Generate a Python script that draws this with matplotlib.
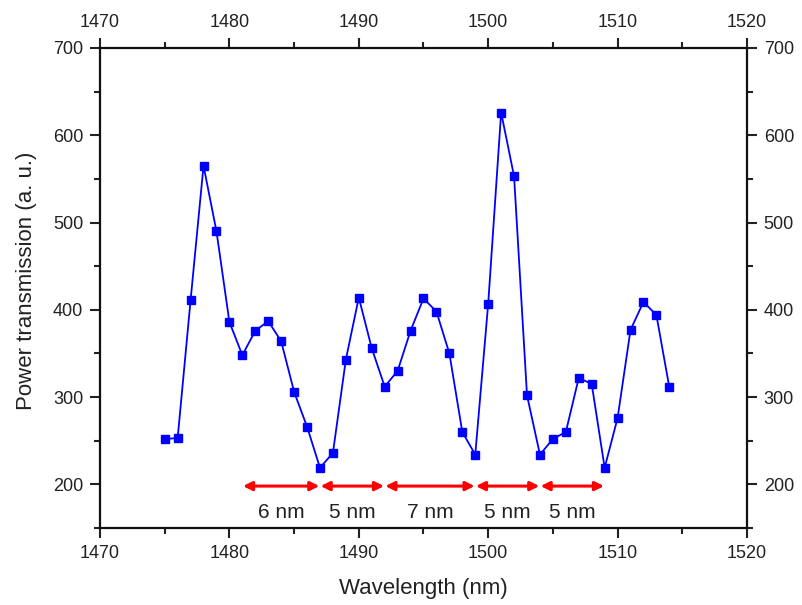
import matplotlib
matplotlib.use("Agg")
import matplotlib.pyplot as plt
from matplotlib.ticker import MultipleLocator

plt.rcParams['font.family'] = ['Liberation Sans', 'DejaVu Sans']

wavelength = list(range(1475, 1515))
power = [252, 253, 411, 565, 490, 386, 348, 376, 387, 364,
         306, 266, 219, 236, 343, 414, 356, 312, 330, 376,
         413, 398, 350, 260, 234, 407, 626, 553, 302, 234,
         252, 260, 322, 315, 219, 276, 377, 409, 394, 311]

spans = [(1481, 1487), (1487, 1492), (1492, 1499), (1499, 1504), (1504, 1509)]
span_labels = ["6 nm", "5 nm", "7 nm", "5 nm", "5 nm"]
arrow_y = 198
label_y = 168

fig = plt.figure(figsize=(8.02, 6.05), dpi=100)
ax = fig.add_axes([0.1247, 0.1273, 0.8067, 0.7934])

ax.plot(wavelength, power, color='#0000ff', lw=1.3, marker='s', ms=5.2,
        mfc='#0000ff', mec='#0000ff')

for (a, b), lab in zip(spans, span_labels):
    ax.annotate('', xy=(b - 0.05, arrow_y), xytext=(a + 0.05, arrow_y),
                arrowprops=dict(arrowstyle='<|-|>', color='#ff0000', lw=2.2,
                                mutation_scale=13, shrinkA=0, shrinkB=0))
    ax.text((a + b) / 2, label_y, lab, ha='center', va='center', fontsize=15,
            color='#222222')

ax.set_xlim(1470, 1520)
ax.set_ylim(150, 700)
ax.xaxis.set_major_locator(MultipleLocator(10))
ax.xaxis.set_minor_locator(MultipleLocator(5))
ax.yaxis.set_major_locator(MultipleLocator(100))
ax.yaxis.set_minor_locator(MultipleLocator(50))

ax.tick_params(which='both', direction='out', top=True, right=True,
               labeltop=True, labelright=True, width=1.5, labelsize=13,
               colors='#222222', pad=5)
ax.tick_params(which='major', length=7)
ax.tick_params(which='minor', length=4)
for s in ax.spines.values():
    s.set_linewidth(1.6)
    s.set_color('#111111')

ax.set_xlabel('Wavelength (nm)', fontsize=16, color='#222222')
ax.set_ylabel('Power transmission (a. u.)', fontsize=16, color='#222222')
ax.xaxis.set_label_coords(0.5, -0.104)
ax.yaxis.set_label_coords(-0.098, 0.515)

fig.savefig('out.png', dpi=100)
